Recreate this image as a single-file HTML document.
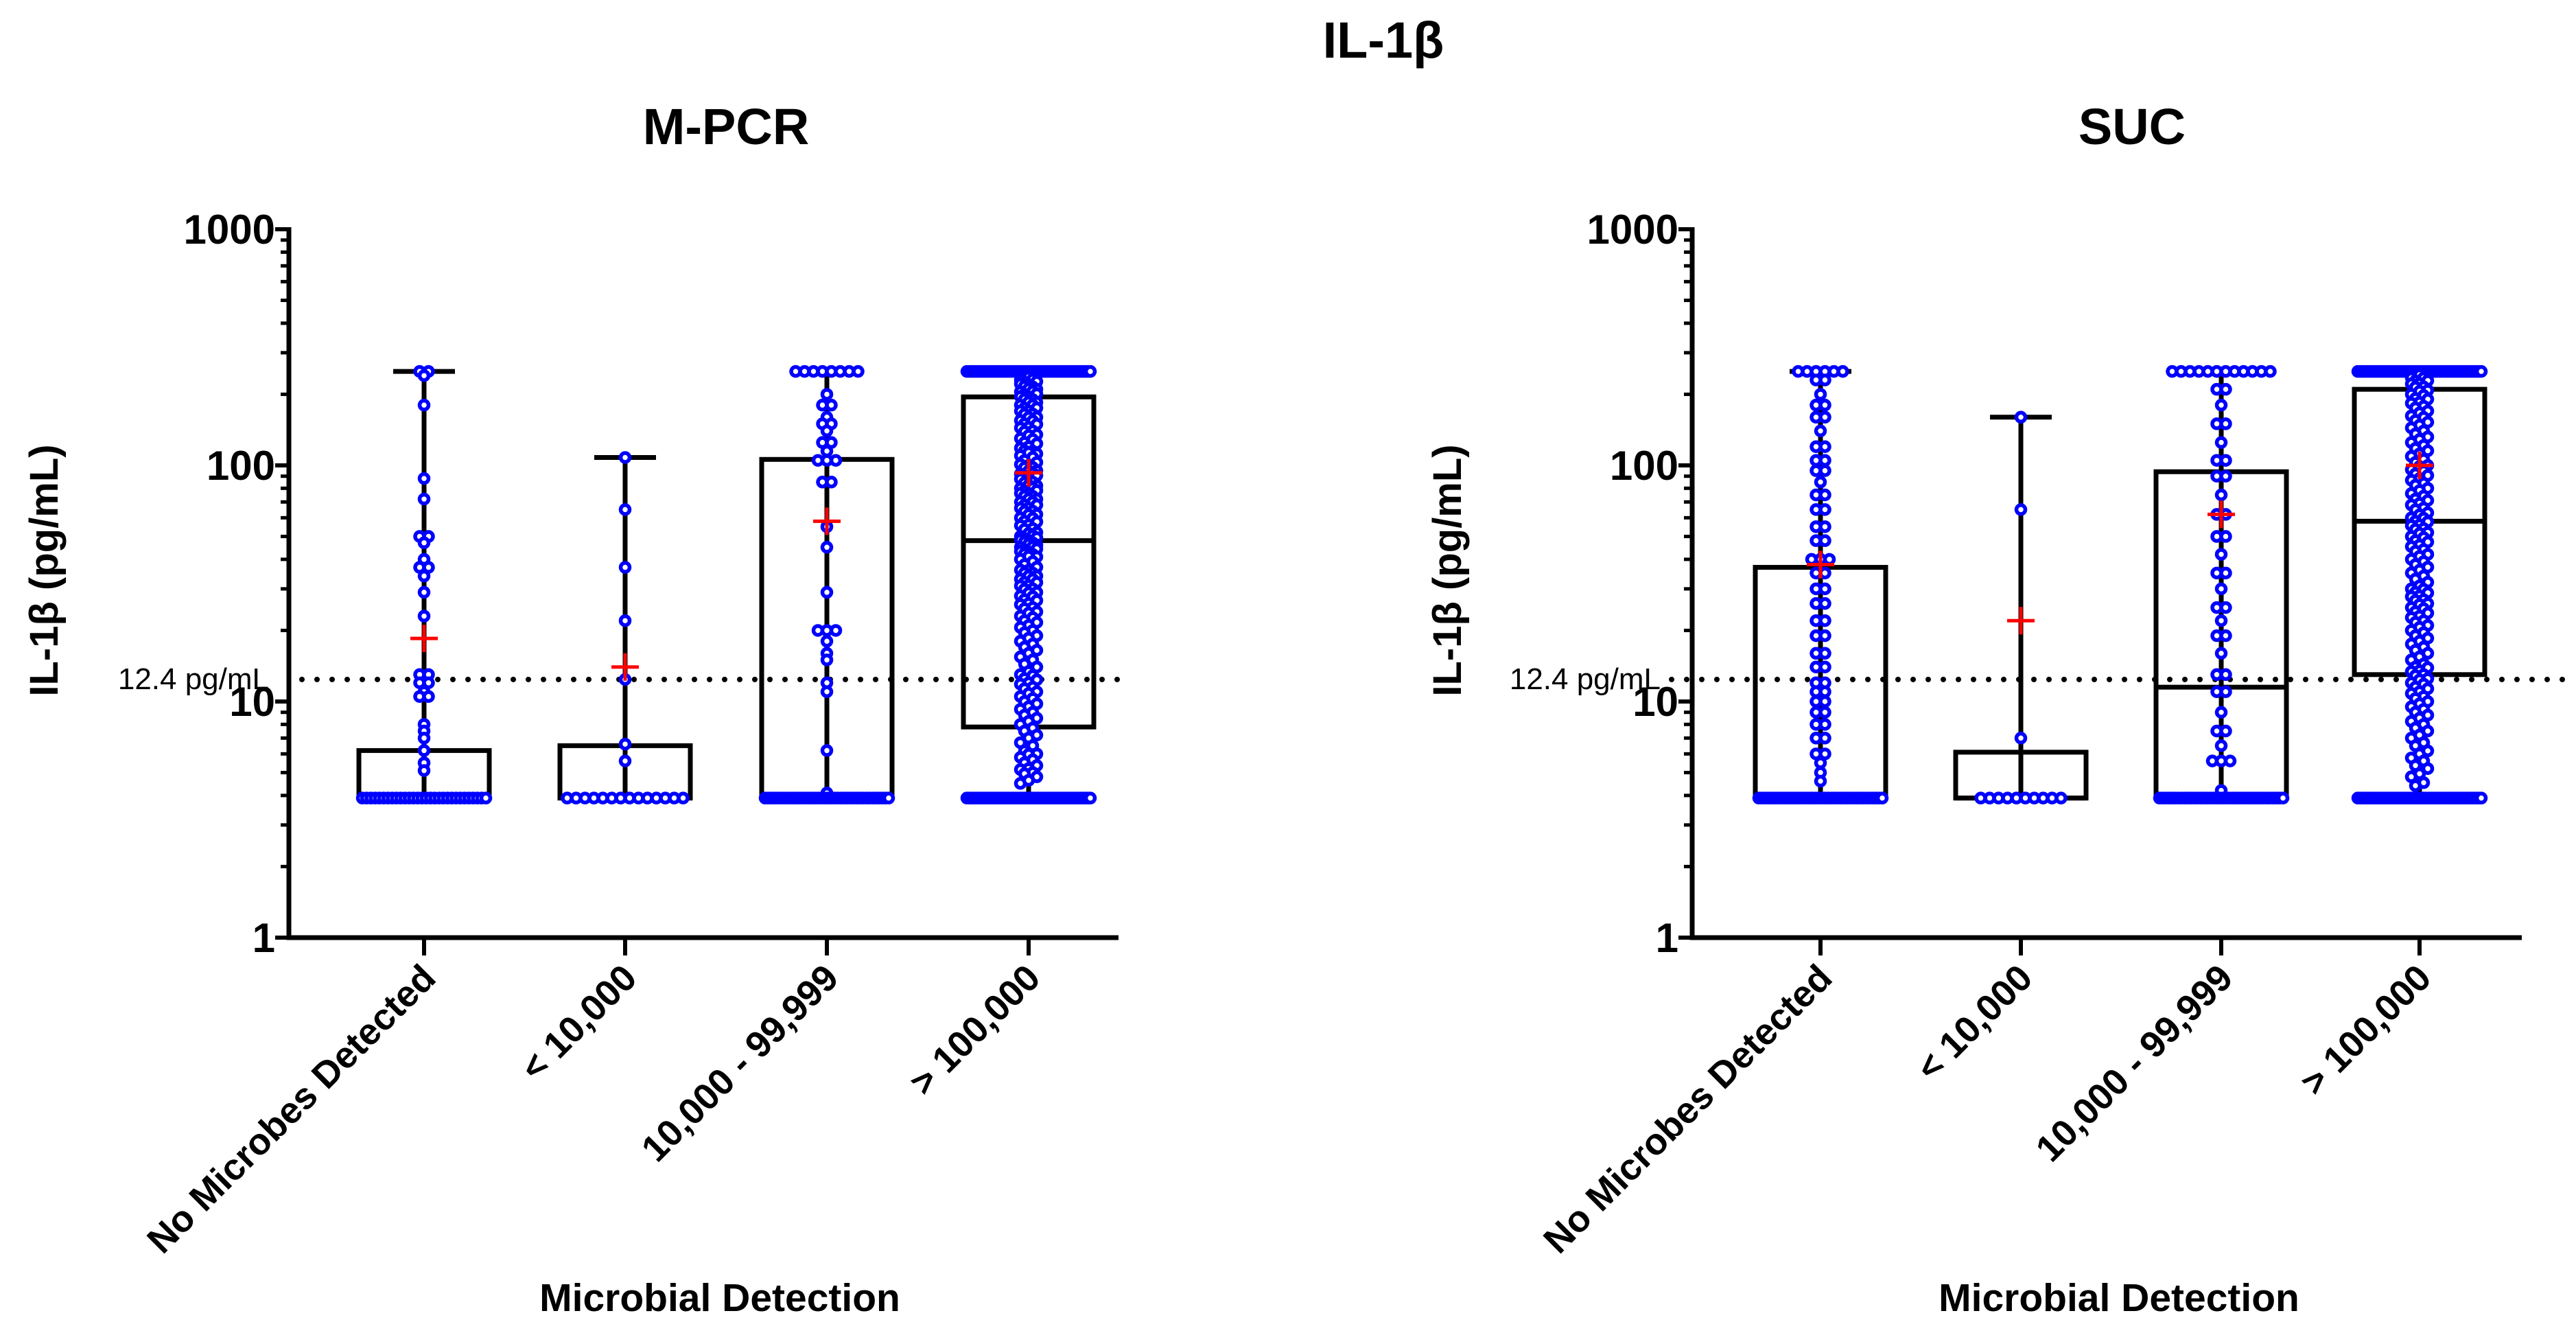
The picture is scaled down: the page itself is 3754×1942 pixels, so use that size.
<!DOCTYPE html>
<html><head><meta charset="utf-8"><style>
html,body{margin:0;padding:0;background:#fff;}
svg{display:block;font-family:"Liberation Sans",Arial,sans-serif;}
</style></head><body>
<svg id="chart" width="3754" height="1942" viewBox="0 0 3754 1942" xmlns="http://www.w3.org/2000/svg">
<text x="2016" y="84" font-size="74" font-weight="bold" text-anchor="middle">IL-1β</text>
<g id="panels"></g>
</svg>
<script>
const categories = ["No Microbes Detected", "< 10,000", "10,000 - 99,999", "> 100,000"];
const panelTitles = ["M-PCR", "SUC"];
const yTickValues = [1, 10, 100, 1000];
const yTickLabels = ["1", "10", "100", "1000"];
const thresholdValue = 12.4;
const thresholdLabel = "12.4 pg/mL";
// box stats per panel: [whiskerLow, q1, median, q3, whiskerHigh, mean]
const mpcrStats = [[3.9,3.9,3.9,6.2,250,18.5],[3.9,3.9,3.9,6.5,108,14],[3.9,3.9,4.0,106,250,58],[3.9,7.8,48,195,250,93]];
const sucStats = [[3.9,3.9,3.9,37,250,38],[3.9,3.9,3.9,6.1,160,22],[3.9,3.9,11.5,94,250,62],[3.9,13,58,210,250,100]];
// points: [value, count]
const mpcrPts0 = [[250,2],[240,1],[180,1],[88,1],[72,1],[50,2],[47,1],[40,1],[37,2],[34,1],[29,1],[23,1],[13,2],[12,2],[11,1],[10.5,2],[8,1],[7.5,1],[7,1],[6.2,1],[5.5,1],[5.1,1],[3.9,30]];
const mpcrPts1 = [[108,1],[65,1],[37,1],[22,1],[12.4,1],[6.6,1],[5.6,1],[3.9,14]];
const mpcrPts2 = [[250,8],[200,1],[180,2],[160,1],[150,2],[140,1],[125,2],[115,1],[105,3],[85,2],[55,1],[45,1],[29,1],[20,3],[18,1],[16,1],[15,1],[12,1],[11,1],[6.2,1],[4.1,1],[3.9,40]];
const mpcrPts3Dense = [230,225,220,215,210,205,200,195,190,185,180,175,170,165,160,155,150,145,140,135,130,125,120,115,112,110,105,100,98,95,92,90,88,85,82,80,78,76,74,72,70,68,66,64,62,60,58,56,54,52,50,49,48,47,46,45,44,43,42,41,40,38,36,35,34,33,32,31,30,29,28,27,26,25,24,23,22,21,20,19,18,17,16,15,14,13,12.5,12,11.5,11,10.5,10,9.5,9,8.5,8,7.5,7,6.5,6,5.8,5.5,5.2,5,4.8,4.5];
const mpcrPts3 = [[250,60],[3.9,50]];
const sucPts0 = [[250,6],[230,2],[200,1],[180,2],[160,2],[140,1],[120,2],[105,2],[95,2],[85,1],[75,2],[65,2],[55,2],[48,2],[40,3],[35,2],[30,2],[26,2],[22,2],[19,2],[16,2],[14,2],[12,2],[11,2],[10,2],[9,2],[8,2],[7,2],[6,2],[5.5,1],[5,1],[4.6,1],[3.9,40]];
const sucPts1 = [[160,1],[65,1],[7,1],[3.9,10]];
const sucPts2 = [[250,12],[210,2],[180,1],[150,2],[125,1],[105,2],[90,2],[75,1],[62,2],[50,2],[42,1],[35,2],[30,1],[25,2],[22,1],[19,2],[16,1],[13,2],[11,2],[9,1],[7.5,2],[6.5,1],[5.6,3],[4.2,1],[3.9,40]];
const sucPts3Dense = [235,228,222,215,208,200,192,185,178,170,162,155,148,140,132,125,118,112,106,100,96,92,88,84,80,76,72,69,66,63,60,58,56,54,52,50,48,46,44,42,40,38,36,34,32,30,29,28,27,26,25,24,23,22,21,20,19,18,17,16,15,14,13.5,13,12.5,12,11.5,11,10.5,10,9.5,9,8.5,8,7.5,7,6.5,6,5.6,5.2,4.8,4.4];
const sucPts3 = [[250,60],[3.9,50]];

const NS = "http://www.w3.org/2000/svg";
const root = document.getElementById("panels");
function mk(tag, attrs, parent){ const e=document.createElementNS(NS,tag); for(const k in attrs) e.setAttribute(k,attrs[k]); (parent||root).appendChild(e); return e; }
const Y0 = 1366, DEC = 344;
function yScale(v){ return Y0 - DEC*Math.log10(v); }

const panels = [
  {axisX:421, endX:1630, cats:[618,911,1205,1499], title:panelTitles[0], titleX:1058, labelEnd:392, dotStart:440, dotEnd:1640, stats:mpcrStats, pts:[mpcrPts0,mpcrPts1,mpcrPts2,mpcrPts3], dense:mpcrPts3Dense, xTitle:1049, yTitleX:84, key:"mpcr"},
  {axisX:2466, endX:3675, cats:[2653,2945,3237,3526], title:panelTitles[1], titleX:3107, labelEnd:2420, dotStart:2436, dotEnd:3740, stats:sucStats, pts:[sucPts0,sucPts1,sucPts2,sucPts3], dense:sucPts3Dense, xTitle:3088, yTitleX:2129, key:"suc"}
];

panels.forEach(p=>{
  const g = mk("g",{});
  
  
  const t = mk("text",{x:p.titleX,y:210,"font-size":74,"font-weight":"bold","text-anchor":"middle"},g);
  t.textContent = p.title;
  
  
  const yt = mk("text",{x:0,y:0,"font-size":58,"font-weight":"bold","text-anchor":"middle",transform:`translate(${p.yTitleX},831) rotate(-90)`},g);
  yt.textContent = "IL-1β (pg/mL)";
  
  
  const ax = mk("path",{d:`M${p.axisX} ${yScale(1000)-3} V${Y0} H${p.endX}`,fill:"none",stroke:"#000","stroke-width":7},g);
  
  
  for(let d=0; d<3; d++){
    for(let m=2;m<=9;m++){
      const v = Math.pow(10,d)*m;
      const tk = mk("line",{x1:p.axisX-12,x2:p.axisX,y1:yScale(v),y2:yScale(v),stroke:"#000","stroke-width":5},g);
      
      
    }
  }
  yTickValues.forEach((v,i)=>{
    const tk = mk("line",{x1:p.axisX-20,x2:p.axisX,y1:yScale(v),y2:yScale(v),stroke:"#000","stroke-width":6},g);
    
    
    const lb = mk("text",{x:p.axisX-20,y:yScale(v)+21,"font-size":60,"font-weight":"bold","text-anchor":"end"},g);
    lb.textContent = yTickLabels[i];
    
    
  });
  const ty = yScale(thresholdValue);
  const th = mk("line",{x1:p.dotStart,x2:p.dotEnd,y1:ty,y2:ty,stroke:"#000","stroke-width":8,"stroke-dasharray":"0 22","stroke-linecap":"round"},g);
  
  
  const tl = mk("text",{x:p.labelEnd,y:ty+14,"font-size":44,"text-anchor":"end"},g);
  tl.textContent = thresholdLabel;
  
  
  categories.forEach((c,i)=>{
    const cx = p.cats[i];
    const tk = mk("line",{x1:cx,x2:cx,y1:Y0,y2:Y0+26,stroke:"#000","stroke-width":6},g);
    
    
    const lb = mk("text",{x:0,y:0,"font-size":54,"font-weight":"bold","text-anchor":"end",transform:`translate(${cx+20},${Y0+62}) rotate(-45)`},g);
    lb.textContent = c;
    
    
    const s = p.stats[i];
    const bw = 95, cw = 45;
    const wk = mk("path",{d:`M${cx} ${yScale(s[0])} V${yScale(s[4])} M${cx-cw} ${yScale(s[4])} H${cx+cw}`,stroke:"#000","stroke-width":7,fill:"none"},g);
    
    
    const bx = mk("rect",{x:cx-bw,y:yScale(s[3]),width:2*bw,height:yScale(s[1])-yScale(s[3]),fill:"none",stroke:"#000","stroke-width":7},g);
    
    
    const md = mk("line",{x1:cx-bw,x2:cx+bw,y1:yScale(s[2]),y2:yScale(s[2]),stroke:"#000","stroke-width":7},g);
    
    
    const pts = p.pts[i];
    const drawPt=(x,v)=>{
      const c = mk("circle",{cx:x,cy:yScale(v),r:6.5,fill:"#fff",stroke:"#0000ff","stroke-width":5.5},g);
      
      
    };
    pts.forEach(([v,n])=>{
      const sp = n>1 ? Math.min(13, 180/(n-1)) : 0;
      for(let k=0;k<n;k++) drawPt(cx + (k-(n-1)/2)*sp, v);
    });
    if(i===3){ p.dense.forEach((v,k)=>{ drawPt(cx + ((k%5)-2)*6, v); drawPt(cx + (((k+2)%5)-2)*6, v*1.03); }); }
    const mn = mk("path",{d:`M${cx-20} ${yScale(s[5])} H${cx+20} M${cx} ${yScale(s[5])-20} V${yScale(s[5])+20}`,stroke:"#ff0000","stroke-width":5},g);
    
    
  });
  const xt = mk("text",{x:p.xTitle,y:1910,"font-size":57,"font-weight":"bold","text-anchor":"middle"},g);
  xt.textContent = "Microbial Detection";
  
  
});
</script>
</body></html>
